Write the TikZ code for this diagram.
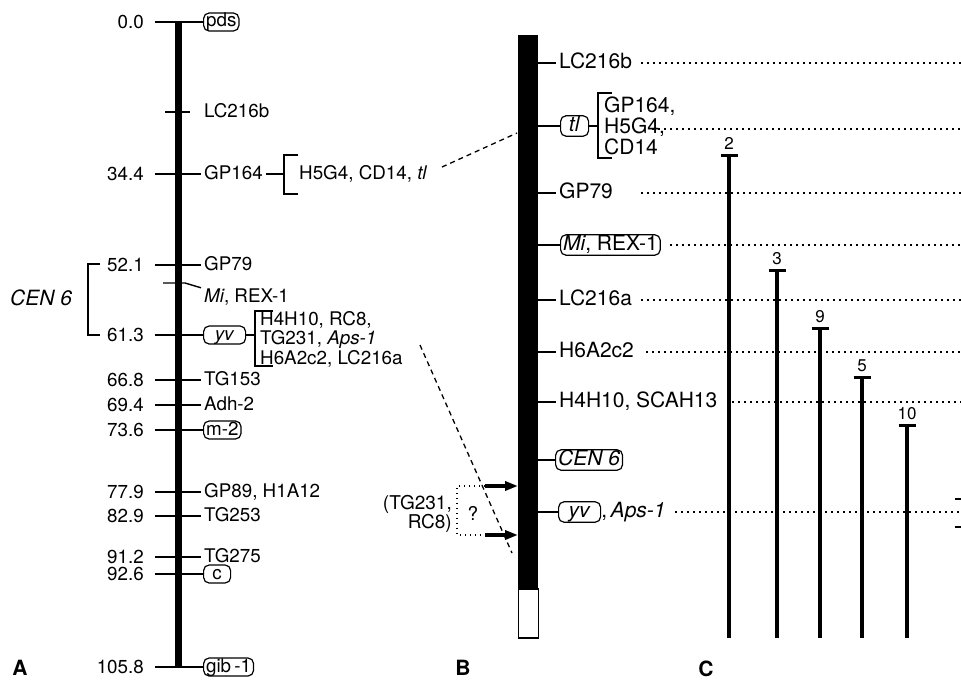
\documentclass[tikz,border=0pt]{standalone}
\usepackage{fontspec}
\setmainfont{TeX Gyre Heros}
\usetikzlibrary{positioning,arrows.meta}
\tikzset{
  % --- nodes
  lbl/.style  = {anchor=west, inner xsep=3pt, inner ysep=0.5pt, text height=13.5pt, text depth=3.5pt},
  bx/.style   = {lbl, draw, line width=1.2pt, rounded corners=5.5pt, inner xsep=2.5pt, xshift=2pt},
  bxw/.style  = {bx, minimum width=42pt},
  bxc/.style  = {bx, minimum width=27pt},
  num/.style  = {anchor=east, inner sep=0pt},
  grp/.style  = {anchor=west, align=left, inner sep=0pt},
  cnum/.style = {inner sep=0pt, font=\fontsize{17}{17}\selectfont},
  panel/.style= {inner sep=0pt, font=\fontsize{21}{21}\selectfont\bfseries},
  % --- edges
  tk/.style    = {line width=1.4pt},
  brk/.style   = {line width=1.3pt},
  dsh/.style   = {line width=1.3pt, dash pattern=on 5pt off 4pt},
  dotln/.style = {line width=1.6pt, dash pattern=on 1.5pt off 4.5pt},
  stem/.style  = {line width=3.5pt},
  arr/.style   = {line width=3.5pt, -{Triangle[length=13pt,width=9pt]}},
}

\begin{document}
\begin{tikzpicture}[x=1pt, y=-1pt]
  \useasboundingbox (0,0) rectangle (961,680);
  \coordinate (rim) at (961,0);

  % A: the linkage map
  \begin{scope}[font=\fontsize{18.8}{19.5}\selectfont]
    \node[fill=black, inner sep=0pt, minimum width=7pt, minimum height=645pt, anchor=north] (barA) at (178,22) {};
    \foreach \yy/\cm/\lab/\kind [count=\i] in {22/0.0/pds/bx, 174/34.4/GP164/lbl, 265/52.1/GP79/lbl,
        335/61.3/\textit{yv}/bxw, 380/66.8/TG153/lbl, 405/69.4/Adh-2/lbl, 430/73.6/m-2/bx,
        492/77.9/{GP89, H1A12}/lbl, 516/82.9/TG253/lbl, 557/91.2/TG275/lbl, 574/92.6/c/bxc,
        667/105.8/gib\,-1/bx} {
      \node[num] (an\i) at (144,\yy) {\cm};
      \node[\kind] (al\i) at (201,\yy) {\lab};
      \draw[tk] (an\i.east) ++(11,0) -- (al\i.west);
    }
    \node[lbl] (lc) at (201,112) {LC216b};
    \draw[tk] ([xshift=-13pt]barA.center |- lc.west) -- ([xshift=12pt]barA.center |- lc.west);
    \node[lbl] (mi) at (201,297) {\textit{Mi}, REX-1};
    \draw[tk] (163,283) -- (185,283) -- (mi.north west);

    \draw[tk] (al2.east) -- (284,174);
    \draw[brk] (298,155) -- (284,155) -- (284,194) -- (298,194);
    \node[grp] (h5) at (299,174) {H5G4, CD14, \textit{tl}};

    \draw[tk] (al4.east) -- (255,335);
    \draw[brk] (273,311) -- (255,311) -- (255,366) -- (273,366);
    \node[grp] (yvg) at (260,339) {H4H10, RC8,\\TG231, \textit{Aps-1}\\H6A2c2, LC216a};

    \node[anchor=west, inner sep=0pt, font=\fontsize{21}{21}\selectfont\itshape] (cenA) at (10,298) {CEN 6};
    \draw[brk] (100,264) -- (88,264) -- (88,335) -- (100,335);
  \end{scope}

  % B: the physical map
  \begin{scope}[font=\fontsize{21}{21}\selectfont,
                lbl/.append style={text height=15pt, text depth=4.5pt}]
    \node[fill=black, inner sep=0pt, minimum width=20pt, minimum height=553pt, anchor=north west] (barB) at (518,35) {};
    \node[draw, line width=1.2pt, fill=white, inner sep=0pt, minimum width=20pt, minimum height=49pt, anchor=north] (tipB) at (barB.south) {};
    \foreach \yy/\lab/\dx [count=\i] in {63/LC216b/641, 193/GP79/641, 300/LC216a/641, 352/H6A2c2/646,
        402/{H4H10, SCAH13}/732} {
      \node[lbl] (bl\i) at (556,\yy) {\lab};
      \draw[tk] (barB.east |- bl\i.west) -- (bl\i.west);
      \draw[dotln] (\dx,\yy) -- (rim |- bl\i.west);
    }
    \node[bx, minimum width=28pt] (tl) at (558,126) {\textit{tl}};
    \draw[tk] (barB.east |- tl.west) -- (tl.west);
    \draw[tk] (tl.east) -- (598,126);
    \draw[brk] (612,93) -- (598,93) -- (598,158) -- (612,158);
    \node[grp] (tlg) at (604,126) {GP164,\\H5G4,\\CD14};
    \draw[dotln] (652,129) -- (rim |- 0,129);

    \node[bx] (mib) at (558,245) {\textit{Mi}, REX-1};
    \draw[tk] (barB.east |- mib.west) -- (mib.west);
    \draw[dotln] (670,245) -- (rim |- mib.west);

    \node[bx] (cenB) at (553,460) {\textit{CEN 6}};
    \draw[tk] (barB.east |- cenB.west) -- (cenB.west);

    \node[bxw] (yvb) at (556,512) {\textit{yv}};
    \draw[tk] (barB.east |- yvb.west) -- (yvb.west);
    \node[lbl, inner xsep=0pt] (aps) at (yvb.east) {,\,\textit{Aps-1}};
    \draw[dotln] (675,512) -- (rim |- yvb.west);

    \node[anchor=east, align=right, inner sep=0pt, font=\fontsize{19}{18}\selectfont] (qlab) at (452,514) {(TG231,\\RC8)};
    \node[inner sep=0pt, font=\fontsize{19}{19}\selectfont] (qm) at (473,513) {?};
    \coordinate (q1) at (485,486);
    \coordinate (q2) at (485,535);
    \draw[dotln, line width=1.4pt, dash pattern=on 1.4pt off 3.6pt] (q1) -- (457,486) -- (457,535) -- (q2);
    \draw[arr] (q1) -- (barB.west |- q1);
    \draw[arr] (q2) -- (barB.west |- q2);
  \end{scope}

  % dashed guides from A to B
  \coordinate (d0) at (442,167);
  \coordinate (d1) at (517,133);
  \coordinate (d2) at (420,345);
  \coordinate (d3) at (512,553);
  \draw[dsh] (d0) -- (d1);
  \draw[dsh] (d2) -- (d3);

  % C: the deletion lines
  \foreach \xx/\tp/\n in {729/155/2, 777/270/3, 820/328/9, 862/377/5, 907/425/10} {
    \coordinate (ct\n) at (\xx,\tp);
    \coordinate (cb\n) at (\xx,638);
    \draw[stem] (ct\n) -- (cb\n);
    \draw[stem, line width=3pt] ([xshift=-8.5pt]ct\n) -- ([xshift=8.5pt]ct\n);
    \node[cnum, above=5pt of ct\n] (cn\n) {\n};
  }
  \draw[stem, line width=2.5pt] (955,499) -- (rim |- 0,499);
  \draw[stem, line width=2.5pt] (955,527) -- (rim |- 0,527);

  \node[panel] (pA) at (20,668) {A};
  \node[panel] (pB) at (463,668) {B};
  \node[panel] (pC) at (706,669) {C};
\end{tikzpicture}
\end{document}
